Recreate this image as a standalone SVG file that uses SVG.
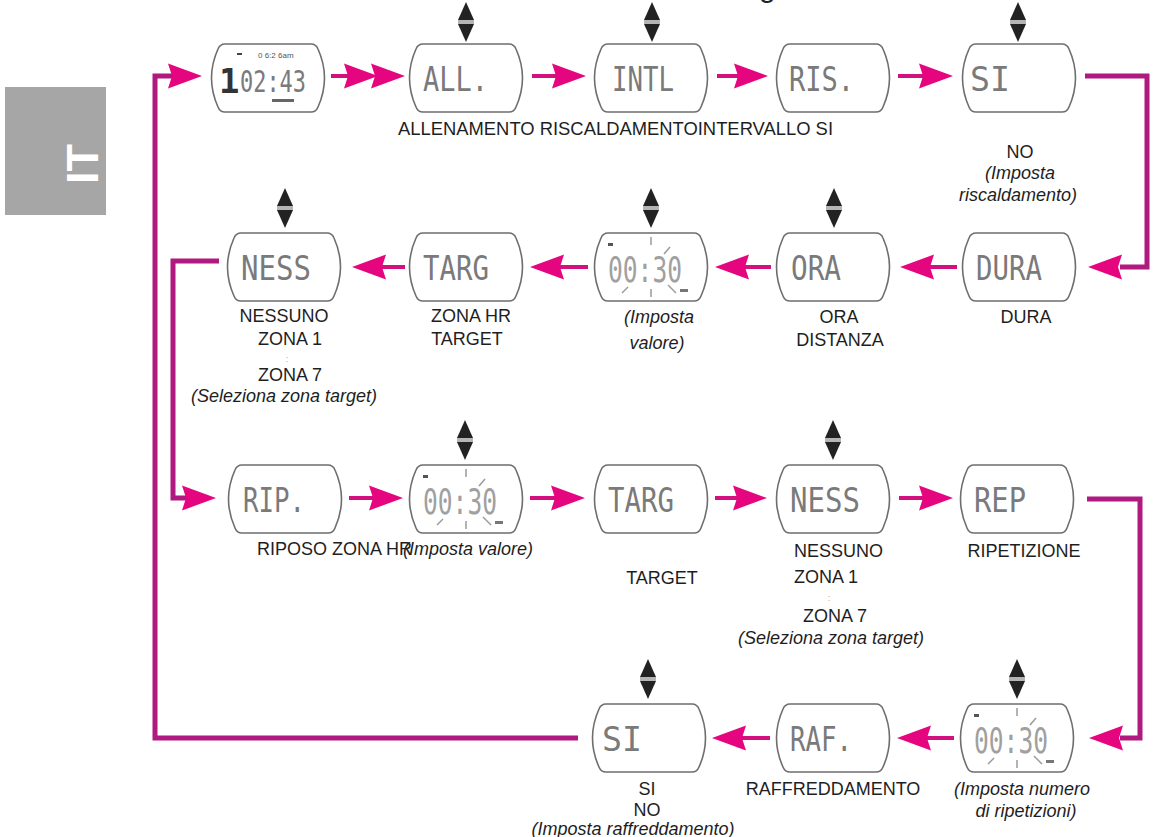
<svg xmlns="http://www.w3.org/2000/svg" xmlns:xlink="http://www.w3.org/1999/xlink" width="1153" height="837" viewBox="0 0 1153 837">
<style>
.nd{fill:#fff;stroke:#6e6e6e;stroke-width:1.6}
.lcd{font-family:"DejaVu Sans Mono",monospace;font-size:34px;fill:#7a7a7a}
.clk{font-family:"DejaVu Sans Mono",monospace;font-size:36px;fill:#a0a0a0}
.lb{font-family:"Liberation Sans",Arial,sans-serif;font-size:18px;fill:#1e1e1e}
.dots{font-family:"Liberation Sans",Arial,sans-serif;font-size:9px;fill:#aaa;text-anchor:middle}
.it{font-style:italic}
.mid{text-anchor:middle}
.ln{fill:none;stroke:#b0197f;stroke-width:5}
.st{fill:none;stroke:#d3107f;stroke-width:4}
.hd{fill:#e5067f}
.tk{stroke:#9a9a9a;stroke-width:1.5}
</style>
<defs>
<path id="nd" d="M16,0 H102 Q107,0 109,5 Q122,34 109,63 Q107,68 102,68 H16 Q11,68 9,63 Q-4,34 9,5 Q11,0 16,0 Z"/>
<path id="hr" d="M0,0 L-34,-12.5 L-30,0 L-34,12.5 Z"/>
<path id="hl" d="M0,0 L34,-12.5 L30,0 L34,12.5 Z"/>
<g id="ud">
<path d="M0,0 L8,18 L-8,18 Z" fill="#222"/>
<rect x="-8" y="18" width="16" height="4" fill="#b5b5b5"/>
<path d="M-8,22 L8,22 L0,40 Z" fill="#222"/>
</g>
<g id="tick">
<rect x="16" y="10" width="5" height="3" fill="#555"/>
<line class="tk" x1="59" y1="4" x2="59" y2="12"/>
<line class="tk" x1="59" y1="56" x2="59" y2="64"/>
<line class="tk" x1="30" y1="60" x2="36" y2="54"/>
<line class="tk" x1="78" y1="14" x2="72" y2="21"/>
<line class="tk" x1="76" y1="52" x2="84" y2="60"/>
<rect x="88" y="56" width="8" height="3" fill="#777"/>
</g>
</defs>

<g id="tab">
<rect x="5" y="87" width="101" height="128" fill="#a6a6a6"/>
<text transform="translate(98,184) rotate(-90)" font-family="Liberation Sans,Arial,sans-serif" font-weight="bold" font-size="45" fill="#fff">IT</text>
</g>
<text x="759" y="-3" font-family="Liberation Sans,Arial,sans-serif" font-size="30" fill="#222">g</text>

<g id="connectors">
<path class="ln" d="M578,738 H155 V76 H172"/>
<use href="#hr" x="202" y="76" class="hd"/>
<path class="ln" d="M219,261 H173 V498 H186"/>
<use href="#hr" x="216" y="498" class="hd"/>
<path class="ln" d="M1085,76 H1147 V267 H1120"/>
<use href="#hl" x="1088" y="267" class="hd"/>
<path class="ln" d="M1087,499 H1140 V738 H1120"/>
<use href="#hl" x="1089" y="738" class="hd"/>
<line class="st" x1="331" y1="76" x2="352" y2="76"/>
<use href="#hr" x="378" y="76" class="hd"/>
<use href="#hr" x="405" y="76" class="hd"/>
<line class="st" x1="532" y1="76" x2="556" y2="76"/>
<use href="#hr" x="586" y="76" class="hd"/>
<line class="st" x1="717" y1="76" x2="738" y2="76"/>
<use href="#hr" x="768" y="76" class="hd"/>
<line class="st" x1="898" y1="76" x2="923" y2="76"/>
<use href="#hr" x="953" y="76" class="hd"/>
<line class="st" x1="957" y1="267" x2="930" y2="267"/>
<use href="#hl" x="900" y="267" class="hd"/>
<line class="st" x1="771" y1="267" x2="745" y2="267"/>
<use href="#hl" x="715" y="267" class="hd"/>
<line class="st" x1="588" y1="267" x2="560" y2="267"/>
<use href="#hl" x="530" y="267" class="hd"/>
<line class="st" x1="405" y1="267" x2="382" y2="267"/>
<use href="#hl" x="352" y="267" class="hd"/>
<line class="st" x1="349" y1="498" x2="373" y2="498"/>
<use href="#hr" x="403" y="498" class="hd"/>
<line class="st" x1="530" y1="498" x2="555" y2="498"/>
<use href="#hr" x="585" y="498" class="hd"/>
<line class="st" x1="715" y1="498" x2="737" y2="498"/>
<use href="#hr" x="767" y="498" class="hd"/>
<line class="st" x1="899" y1="498" x2="923" y2="498"/>
<use href="#hr" x="953" y="498" class="hd"/>
<line class="st" x1="954" y1="738" x2="927" y2="738"/>
<use href="#hl" x="897" y="738" class="hd"/>
<line class="st" x1="770" y1="738" x2="742" y2="738"/>
<use href="#hl" x="712" y="738" class="hd"/>
</g>

<g id="n-watch">
<use href="#nd" x="209" y="44" class="nd"/>
<text x="219" y="93" font-family="DejaVu Sans Mono,monospace" font-size="34" font-weight="bold" fill="#333">1</text>
<text x="240" y="92" class="lcd" style="font-size:30px" textLength="66" lengthAdjust="spacingAndGlyphs">02:43</text>
<text x="258" y="58" font-family="Liberation Sans,Arial,sans-serif" font-size="8" fill="#555">0 6:2 6am</text>
<rect x="272" y="99" width="22" height="3" fill="#666"/>
<rect x="237" y="53" width="5" height="2" fill="#444"/>
</g>
<g id="n-all">
<use href="#ud" x="466" y="2"/>
<use href="#nd" x="407" y="44" class="nd"/>
<text x="423" y="91" class="lcd" textLength="65" lengthAdjust="spacingAndGlyphs">ALL.</text>
</g>
<g id="n-intl">
<use href="#ud" x="652" y="2"/>
<use href="#nd" x="592" y="44" class="nd"/>
<text x="612" y="91" class="lcd" textLength="62" lengthAdjust="spacingAndGlyphs">INTL</text>
</g>
<g id="n-ris">
<use href="#nd" x="774" y="44" class="nd"/>
<text x="789" y="91" class="lcd" textLength="65" lengthAdjust="spacingAndGlyphs">RIS.</text>
</g>
<g id="n-si1">
<use href="#ud" x="1018" y="2"/>
<use href="#nd" x="960" y="44" class="nd"/>
<text x="970" y="91" class="lcd" textLength="40" lengthAdjust="spacingAndGlyphs">SI</text>
</g>

<g id="n-ness1">
<use href="#ud" x="285" y="188"/>
<use href="#nd" x="225" y="233" class="nd"/>
<text x="241" y="280" class="lcd" textLength="70" lengthAdjust="spacingAndGlyphs">NESS</text>
</g>
<g id="n-targ1">
<use href="#nd" x="407" y="233" class="nd"/>
<text x="423" y="280" class="lcd" textLength="66" lengthAdjust="spacingAndGlyphs">TARG</text>
</g>
<g id="n-val1">
<use href="#ud" x="651" y="188"/>
<use href="#nd" x="592" y="233" class="nd"/>
<use href="#tick" x="592" y="233"/>
<text x="608" y="282" class="clk" textLength="74" lengthAdjust="spacingAndGlyphs">00:30</text>
</g>
<g id="n-ora">
<use href="#ud" x="834" y="188"/>
<use href="#nd" x="774" y="233" class="nd"/>
<text x="791" y="280" class="lcd" textLength="50" lengthAdjust="spacingAndGlyphs">ORA</text>
</g>
<g id="n-dura">
<use href="#nd" x="960" y="233" class="nd"/>
<text x="976" y="280" class="lcd" textLength="66" lengthAdjust="spacingAndGlyphs">DURA</text>
</g>

<g id="n-rip">
<use href="#nd" x="226" y="465" class="nd"/>
<text x="243" y="512" class="lcd" textLength="62" lengthAdjust="spacingAndGlyphs">RIP.</text>
</g>
<g id="n-val2">
<use href="#ud" x="465" y="420"/>
<use href="#nd" x="407" y="465" class="nd"/>
<use href="#tick" x="407" y="465"/>
<text x="423" y="514" class="clk" textLength="74" lengthAdjust="spacingAndGlyphs">00:30</text>
</g>
<g id="n-targ2">
<use href="#nd" x="592" y="465" class="nd"/>
<text x="608" y="512" class="lcd" textLength="66" lengthAdjust="spacingAndGlyphs">TARG</text>
</g>
<g id="n-ness2">
<use href="#ud" x="833" y="420"/>
<use href="#nd" x="774" y="465" class="nd"/>
<text x="790" y="512" class="lcd" textLength="70" lengthAdjust="spacingAndGlyphs">NESS</text>
</g>
<g id="n-rep">
<use href="#nd" x="958" y="465" class="nd"/>
<text x="974" y="512" class="lcd" textLength="52" lengthAdjust="spacingAndGlyphs">REP</text>
</g>

<g id="n-si2">
<use href="#ud" x="648" y="659"/>
<use href="#nd" x="590" y="704" class="nd"/>
<text x="602" y="751" class="lcd" textLength="40" lengthAdjust="spacingAndGlyphs">SI</text>
</g>
<g id="n-raf">
<use href="#nd" x="774" y="704" class="nd"/>
<text x="790" y="751" class="lcd" textLength="62" lengthAdjust="spacingAndGlyphs">RAF.</text>
</g>
<g id="n-val3">
<use href="#ud" x="1017" y="659"/>
<use href="#nd" x="958" y="704" class="nd"/>
<use href="#tick" x="958" y="704"/>
<text x="974" y="753" class="clk" textLength="74" lengthAdjust="spacingAndGlyphs">00:30</text>
</g>

<g id="labels">
<text x="398" y="135" class="lb" textLength="435" lengthAdjust="spacingAndGlyphs">ALLENAMENTO RISCALDAMENTOINTERVALLO SI</text>
<text x="1020" y="158" class="lb mid">NO</text>
<text x="1020" y="179" class="lb it mid">(Imposta</text>
<text x="1018" y="201" class="lb it mid">riscaldamento)</text>

<text x="284" y="322" class="lb mid">NESSUNO</text>
<text x="290" y="345" class="lb mid">ZONA 1</text>
<text x="287" y="362" class="dots">:</text>
<text x="290" y="381" class="lb mid">ZONA 7</text>
<text x="284" y="402" class="lb it mid">(Seleziona zona target)</text>
<text x="471" y="322" class="lb mid">ZONA HR</text>
<text x="467" y="345" class="lb mid">TARGET</text>
<text x="659" y="323" class="lb it mid">(Imposta</text>
<text x="657" y="349" class="lb it mid">valore)</text>
<text x="839" y="323" class="lb mid">ORA</text>
<text x="840" y="346" class="lb mid">DISTANZA</text>
<text x="1026" y="323" class="lb mid">DURA</text>

<text x="257" y="555" class="lb">RIPOSO ZONA HR</text>
<text x="533" y="555" class="lb it" text-anchor="end">(Imposta valore)</text>
<text x="662" y="584" class="lb mid">TARGET</text>
<text x="794" y="557" class="lb">NESSUNO</text>
<text x="794" y="583" class="lb">ZONA 1</text>
<text x="829" y="601" class="dots">:</text>
<text x="835" y="622" class="lb mid">ZONA 7</text>
<text x="831" y="644" class="lb it mid">(Seleziona zona target)</text>
<text x="1024" y="557" class="lb mid">RIPETIZIONE</text>

<text x="647" y="795" class="lb mid">SI</text>
<text x="647" y="816" class="lb mid">NO</text>
<text x="633" y="835" class="lb it mid">(Imposta raffreddamento)</text>
<text x="833" y="795" class="lb mid">RAFFREDDAMENTO</text>
<text x="1022" y="795" class="lb it mid">(Imposta numero</text>
<text x="1026" y="817" class="lb it mid">di ripetizioni)</text>
</g>
</svg>
